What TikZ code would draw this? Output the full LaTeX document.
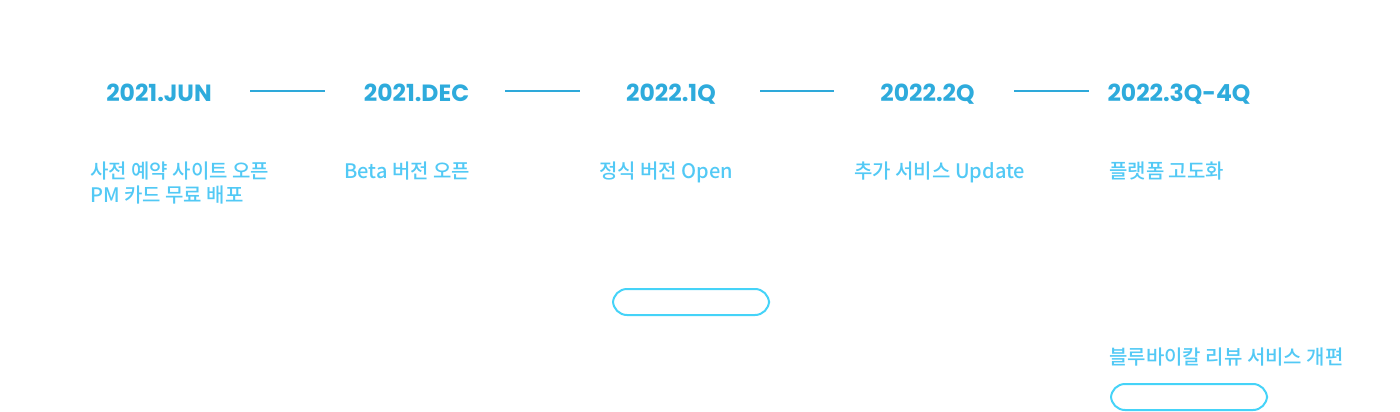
\documentclass[tikz,border=0pt]{standalone}
\usepackage{fontspec}
\newfontfamily\headfont{Poppins}[UprightFont=* Bold]
\newfontfamily\kr{Noto Sans CJK KR}[UprightFont=* Medium]
\definecolor{headblue}{HTML}{2EABDC}
\definecolor{textblue}{HTML}{52C9F5}
\definecolor{pillblue}{HTML}{45D3F8}
\definecolor{lineblue}{HTML}{2EA9DA}
\begin{document}
\begin{tikzpicture}[x=1pt,y=-1pt,
  heading/.style={anchor=base,inner sep=0pt,text=headblue,font=\headfont\fontsize{23.5}{23.5}\selectfont},
  desc/.style={anchor=base west,inner sep=0pt,text=textblue,align=left,font=\kr\fontsize{20}{24}\selectfont},
  link/.style={draw=lineblue,line width=2pt},
  pill/.style={draw=pillblue,line width=2pt,rounded corners=14pt}]
\useasboundingbox (0,0) rectangle (1400,412);
\node[heading] (h1) at (159,101) {2021.JUN};
\node[heading] (h2) at (416.5,101) {2021.DEC};
\node[heading] (h3) at (671,101) {2022.1Q};
\node[heading] (h4) at (927.5,101) {2022.2Q};
\node[heading] (h5) at (1179,101) {2022.3Q-4Q};
\coordinate (a1) at (250,91); \coordinate (b1) at (325,91);
\coordinate (a2) at (505,91); \coordinate (b2) at (580,91);
\coordinate (a3) at (760,91); \coordinate (b3) at (834,91);
\coordinate (a4) at (1014,91); \coordinate (b4) at (1089,91);
\draw[link] (a1) -- (b1);
\draw[link] (a2) -- (b2);
\draw[link] (a3) -- (b3);
\draw[link] (a4) -- (b4);
\node[desc] (d1) at (90,202) {사전 예약 사이트 오픈\\PM 카드 무료 배포};
\node[desc] (d2) at (344,178) {Beta 버전 오픈};
\node[desc] (d3) at (599,178) {정식 버전 Open};
\node[desc] (d4) at (854,178) {추가 서비스 Update};
\node[desc] (d5) at (1109,178) {플랫폼 고도화};
\node[desc] (d6) at (1109,364) {블루바이칼 리뷰 서비스 개편};
\draw[pill] (613,289) rectangle (769,315);
\draw[pill] (1111,384) rectangle (1267,410);
\end{tikzpicture}
\end{document}
